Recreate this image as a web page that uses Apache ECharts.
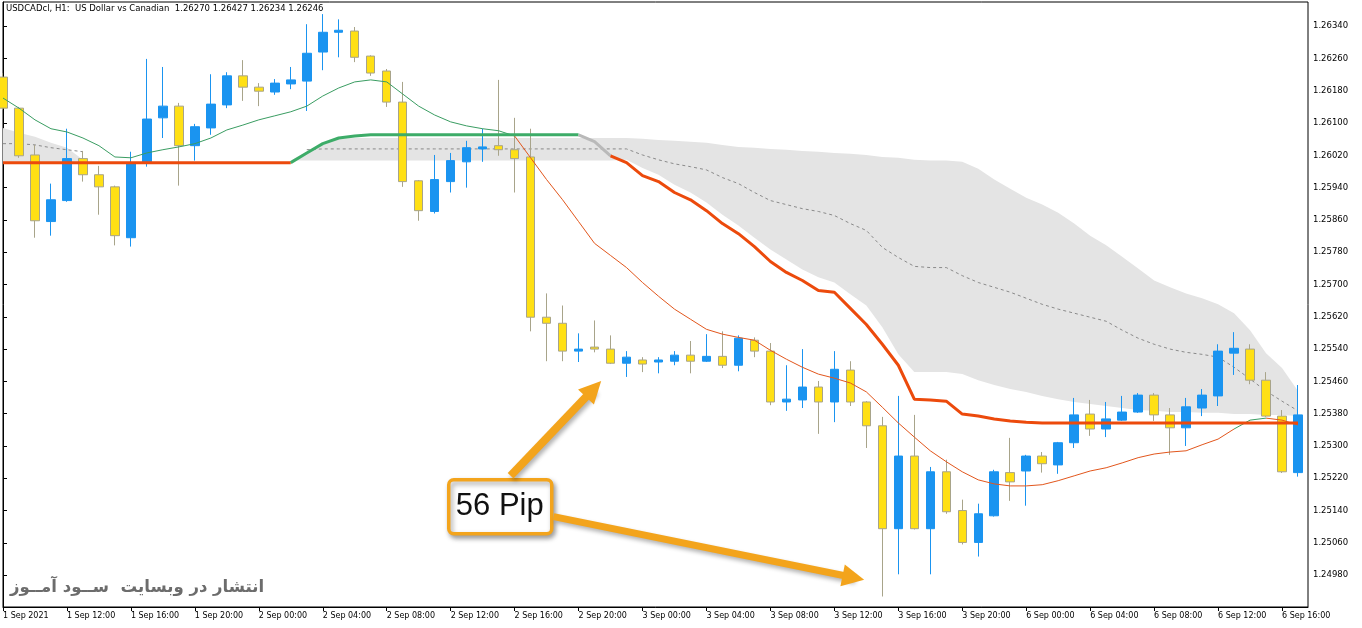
<!DOCTYPE html>
<html>
<head>
<meta charset="utf-8">
<script src="https://cdn.jsdelivr.net/npm/echarts@6.0.0/dist/echarts.min.js"></script>
<style>
  html, body { margin: 0; padding: 0; background: #fff; }
  #chart { width: 1362px; height: 628px; }
</style>
</head>
<body>
<div id="chart"></div>
<script>
// hourly bars, index 0 = 1 Sep 2021 08:00
const tickIndex = [0, 4, 8, 12, 16, 20, 24, 28, 32, 36, 40, 44, 48, 52, 56, 60, 64, 68, 72, 76, 80]
const tickLabels = [
  '1 Sep 2021', '1 Sep 12:00', '1 Sep 16:00', '1 Sep 20:00', '2 Sep 00:00', '2 Sep 04:00',
  '2 Sep 08:00', '2 Sep 12:00', '2 Sep 16:00', '2 Sep 20:00', '3 Sep 00:00', '3 Sep 04:00',
  '3 Sep 08:00', '3 Sep 12:00', '3 Sep 16:00', '3 Sep 20:00', '6 Sep 00:00', '6 Sep 04:00',
  '6 Sep 08:00', '6 Sep 12:00', '6 Sep 16:00'
]
const priceTicks = [
  1.24980, 1.25060, 1.25140, 1.25220, 1.25300, 1.25380, 1.25460, 1.25540, 1.25620,
  1.25700, 1.25780, 1.25860, 1.25940, 1.26020, 1.26100, 1.26180, 1.26260, 1.26340
]

const opens = [
  1.26214, 1.26137, 1.26021, 1.25856, 1.25908, 1.26012, 1.25972, 1.25942, 1.25816, 1.26004,
  1.26113, 1.26142, 1.26044, 1.26088, 1.26145, 1.26217, 1.26189, 1.26177, 1.26197, 1.26204,
  1.26276, 1.26325, 1.26328, 1.26266, 1.26229, 1.26152, 1.25957, 1.25881, 1.25955, 1.26004,
  1.26036, 1.26044, 1.26034, 1.26016, 1.25619, 1.25604, 1.25535, 1.25545, 1.25540, 1.25505,
  1.25513, 1.25508, 1.25510, 1.25525, 1.25510, 1.25522, 1.25500, 1.25562, 1.25535, 1.25409,
  1.25414, 1.25446, 1.25409, 1.25488, 1.25409, 1.25350, 1.25095, 1.25275, 1.25095, 1.25236,
  1.25140, 1.25061, 1.25127, 1.25234, 1.25238, 1.25275, 1.25253, 1.25308, 1.25379, 1.25342,
  1.25364, 1.25384, 1.25426, 1.25377, 1.25345, 1.25394, 1.25424, 1.25530, 1.25540, 1.25463,
  1.25374, 1.25234
]
const highs = [
  1.26224, 1.26140, 1.26046, 1.25950, 1.26086, 1.26031, 1.25994, 1.25945, 1.26029, 1.26259,
  1.26239, 1.26150, 1.26098, 1.26221, 1.26226, 1.26256, 1.26199, 1.26209, 1.26239, 1.26345,
  1.26370, 1.26357, 1.26338, 1.26268, 1.26234, 1.26202, 1.25959, 1.26021, 1.26026, 1.26056,
  1.26086, 1.26207, 1.26113, 1.26086, 1.25678, 1.25648, 1.25579, 1.25611, 1.25574, 1.25535,
  1.25520, 1.25520, 1.25535, 1.25560, 1.25577, 1.25584, 1.25574, 1.25569, 1.25555, 1.25500,
  1.25540, 1.25461, 1.25535, 1.25510, 1.25411, 1.25372, 1.25424, 1.25377, 1.25248, 1.25266,
  1.25167, 1.25157, 1.25241, 1.25320, 1.25278, 1.25285, 1.25310, 1.25419, 1.25414, 1.25409,
  1.25424, 1.25431, 1.25431, 1.25394, 1.25419, 1.25441, 1.25552, 1.25582, 1.25552, 1.25483,
  1.25389, 1.25451
]
const lows = [
  1.26133, 1.26014, 1.25816, 1.25821, 1.25905, 1.25955, 1.25873, 1.25797, 1.25794, 1.25992,
  1.26063, 1.25945, 1.26007, 1.26071, 1.26137, 1.26155, 1.26142, 1.26170, 1.26184, 1.26130,
  1.26231, 1.26263, 1.26251, 1.26217, 1.26140, 1.25942, 1.25858, 1.25876, 1.25928, 1.25940,
  1.26004, 1.26019, 1.25928, 1.25584, 1.25510, 1.25510, 1.25508, 1.25532, 1.25503, 1.25471,
  1.25483, 1.25480, 1.25500, 1.25480, 1.25508, 1.25493, 1.25485, 1.25520, 1.25401, 1.25387,
  1.25394, 1.25330, 1.25359, 1.25399, 1.25295, 1.24927, 1.24982, 1.25093, 1.24982, 1.25132,
  1.25056, 1.25026, 1.25125, 1.25164, 1.25152, 1.25234, 1.25231, 1.25295, 1.25325, 1.25322,
  1.25362, 1.25382, 1.25362, 1.25278, 1.25300, 1.25374, 1.25399, 1.25476, 1.25453, 1.25372,
  1.25233, 1.25224
]
const closes = [
  1.26137, 1.26019, 1.25858, 1.25910, 1.26012, 1.25972, 1.25942, 1.25821, 1.26002, 1.26110,
  1.26142, 1.26044, 1.26091, 1.26147, 1.26217, 1.26189, 1.26179, 1.26199, 1.26207, 1.26273,
  1.26325, 1.26330, 1.26263, 1.26224, 1.26152, 1.25955, 1.25883, 1.25960, 1.26007, 1.26039,
  1.26041, 1.26034, 1.26012, 1.25619, 1.25604, 1.25535, 1.25540, 1.25540, 1.25505, 1.25520,
  1.25503, 1.25513, 1.25525, 1.25510, 1.25522, 1.25500, 1.25567, 1.25535, 1.25409, 1.25416,
  1.25446, 1.25409, 1.25490, 1.25409, 1.25350, 1.25095, 1.25275, 1.25095, 1.25236, 1.25137,
  1.25061, 1.25132, 1.25236, 1.25211, 1.25275, 1.25256, 1.25308, 1.25377, 1.25342, 1.25367,
  1.25384, 1.25426, 1.25377, 1.25345, 1.25397, 1.25426, 1.25535, 1.25542, 1.25463, 1.25374,
  1.25236, 1.25377
]

// thin moving average
const maLine = [
  1.26162, 1.26137, 1.26108, 1.26086, 1.26078, 1.26063, 1.26044, 1.26016, 1.26014, 1.26026,
  1.26034, 1.26041, 1.26049, 1.26063, 1.26083, 1.26095, 1.26108, 1.26118, 1.26128, 1.26142,
  1.26167, 1.26187, 1.26202, 1.26207, 1.26202, 1.26172, 1.26142, 1.26120, 1.26103, 1.26093,
  1.26086, 1.26081, 1.26068, 1.26014, 1.25960, 1.25910, 1.25856, 1.25802, 1.25772, 1.25742,
  1.25705, 1.25671, 1.25639, 1.25614, 1.25589, 1.25577, 1.25569, 1.25562, 1.25537, 1.25515,
  1.25495, 1.25478, 1.25468, 1.25456, 1.25434, 1.25396, 1.25357, 1.25322, 1.25288, 1.25261,
  1.25236, 1.25216, 1.25206, 1.25201, 1.25201, 1.25204, 1.25214, 1.25226, 1.25238, 1.25246,
  1.25258, 1.25271, 1.25280, 1.25285, 1.25288, 1.25303, 1.25317, 1.25342, 1.25364, 1.25369,
  1.25364, 1.25352
]
// thick base line
const baseLine = [
  1.26002, 1.26002, 1.26002, 1.26002, 1.26002, 1.26002, 1.26002, 1.26002, 1.26002, 1.26002,
  1.26002, 1.26002, 1.26002, 1.26002, 1.26002, 1.26002, 1.26002, 1.26002, 1.26002, 1.26026,
  1.26049, 1.26063, 1.26068, 1.26071, 1.26071, 1.26071, 1.26071, 1.26071, 1.26071, 1.26071,
  1.26071, 1.26071, 1.26071, 1.26071, 1.26071, 1.26071, 1.26071, 1.26054, 1.26019, 1.26002,
  1.25970, 1.25955, 1.25928, 1.25910, 1.25883, 1.25851, 1.25826, 1.25794, 1.25757, 1.25730,
  1.25710, 1.25685, 1.25681, 1.25641, 1.25601, 1.25552, 1.25500, 1.25416, 1.25414, 1.25411,
  1.25379, 1.25374, 1.25367, 1.25362, 1.25359, 1.25357, 1.25357, 1.25357, 1.25357, 1.25357,
  1.25357, 1.25357, 1.25357, 1.25357, 1.25357, 1.25357, 1.25357, 1.25357, 1.25357, 1.25357,
  1.25357, 1.25357
]
// cloud edges and its dashed middle line (null = no cloud)
const cloudTop = [
  1.26088, 1.26076, 1.26066, 1.26051, 1.26039, 1.26009, null, null, null, null,
  null, null, null, null, null, null, null, null, 1.26007, 1.26029,
  1.26049, 1.26061, 1.26063, 1.26063, 1.26063, 1.26063, 1.26063, 1.26063, 1.26063, 1.26063,
  1.26063, 1.26063, 1.26063, 1.26063, 1.26063, 1.26063, 1.26063, 1.26063, 1.26063, 1.26063,
  1.26061, 1.26058, 1.26056, 1.26054, 1.26051, 1.26046, 1.26041, 1.26039, 1.26036, 1.26034,
  1.26031, 1.26029, 1.26026, 1.26024, 1.26021, 1.26016, 1.26014, 1.26009, 1.26007, 1.26007,
  1.26004, 1.25987, 1.25960, 1.25937, 1.25915, 1.25898, 1.25878, 1.25851, 1.25821, 1.25797,
  1.25769, 1.25740, 1.25710, 1.25693, 1.25678, 1.25666, 1.25651, 1.25629, 1.25587, 1.25530,
  1.25493, 1.25436
]
const cloudBottom = [
  1.26002, 1.26002, 1.26002, 1.26002, 1.26002, 1.26002, null, null, null, null,
  null, null, null, null, null, null, null, null, 1.26007, 1.26007,
  1.26007, 1.26007, 1.26007, 1.26007, 1.26007, 1.26007, 1.26007, 1.26007, 1.26007, 1.26007,
  1.26007, 1.26007, 1.26007, 1.26007, 1.26007, 1.26007, 1.26007, 1.26007, 1.26007, 1.26009,
  1.25989, 1.25972, 1.25947, 1.25928, 1.25903, 1.25873, 1.25846, 1.25816, 1.25787, 1.25762,
  1.25737, 1.25718, 1.25705, 1.25676, 1.25648, 1.25594, 1.25527, 1.25483, 1.25483, 1.25483,
  1.25478, 1.25463, 1.25451, 1.25441, 1.25434, 1.25424, 1.25416, 1.25409, 1.25404, 1.25399,
  1.25394, 1.25389, 1.25387, 1.25384, 1.25384, 1.25382, 1.25382, 1.25379, 1.25379, 1.25377,
  1.25377, 1.25374
]
const cloudMid = [
  1.26049, 1.26049, 1.26046, 1.26039, 1.26034, 1.26029, null, null, null, null,
  null, null, null, null, null, null, null, null, null, 1.26034,
  1.26036, 1.26036, 1.26036, 1.26036, 1.26036, 1.26036, 1.26036, 1.26036, 1.26036, 1.26036,
  1.26036, 1.26036, 1.26036, 1.26036, 1.26036, 1.26036, 1.26036, 1.26036, 1.26036, 1.26036,
  1.26021, 1.26009, 1.25999, 1.25992, 1.25984, 1.25965, 1.25950, 1.25928, 1.25908, 1.25898,
  1.25888, 1.25881, 1.25871, 1.25851, 1.25834, 1.25792, 1.25767, 1.25745, 1.25742, 1.25742,
  1.25722, 1.25705, 1.25693, 1.25681, 1.25666, 1.25651, 1.25639, 1.25629, 1.25619, 1.25609,
  1.25587, 1.25567, 1.25552, 1.25540, 1.25532, 1.25527, 1.25520, 1.25495, 1.25466, 1.25436,
  1.25411, 1.25387
]

// the two "56 Pip" arrows, [bar index, price] from -> to
const arrowUp = [[31.75, 1.25226], [36.94, 1.25441]]
const arrowDown = [[34.44, 1.25125], [53.19, 1.24974]]

const UP = '#1a94f0'
const DOWN = '#ffe014'
const ORANGE = '#f3a41c'
const AXIS_FONT = 'DejaVu Sans'

function seg(values, from, to) {
  const out = []
  for (let k = from; k <= to; k++) out.push([k, values[k]])
  return out
}

// contiguous non-null runs of an array, as [from, to]
function runs(values) {
  const out = []
  let start = -1
  values.forEach((v, k) => {
    if (v != null && start < 0) start = k
    if ((v == null || k === values.length - 1) && start >= 0) {
      out.push([start, v == null ? k - 1 : k])
      start = -1
    }
  })
  return out
}

function line(data, color, width, z, dash) {
  return {
    type: 'line',
    data,
    z,
    symbol: 'none',
    silent: true,
    lineStyle: { color, width, type: dash || 'solid' },
    animation: false
  }
}

const cloudSpans = runs(cloudTop)
const candles = opens.map((o, k) => [k, o, closes[k], lows[k], highs[k]])

const chart = echarts.init(document.getElementById('chart'))

chart.setOption({
  animation: false,
  backgroundColor: '#fff',
  grid: {
    left: 2, right: 54, top: 2, bottom: 21,
    show: true, borderColor: '#000', borderWidth: 1, backgroundColor: 'transparent'
  },
  xAxis: {
    type: 'value',
    min: 0,
    max: 81.625,
    splitLine: { show: false },
    axisLine: { lineStyle: { color: '#000', width: 1 } },
    axisTick: { customValues: tickIndex, length: 4, lineStyle: { color: '#000' } },
    axisLabel: {
      customValues: tickIndex,
      formatter: v => tickLabels[tickIndex.indexOf(Math.round(v))] || '',
      align: 'left',
      margin: 5,
      color: '#000',
      fontFamily: AXIS_FONT,
      fontSize: 8
    }
  },
  yAxis: {
    type: 'value',
    position: 'right',
    min: 1.24901,
    max: 1.26400,
    scale: true,
    splitLine: { show: false },
    axisLine: { show: true, lineStyle: { color: '#000', width: 1 } },
    axisTick: { show: true, customValues: priceTicks, length: 4, lineStyle: { color: '#000' } },
    axisLabel: {
      customValues: priceTicks,
      formatter: v => v.toFixed(5),
      margin: 5,
      color: '#000',
      fontFamily: AXIS_FONT,
      fontSize: 8.5
    }
  },
  series: [
    {
      // the cloud: one polygon per run, top edge forward then bottom edge back
      type: 'custom',
      z: 1,
      silent: true,
      animation: false,
      data: cloudSpans.map(([from]) => [from, cloudBottom[from]]),
      encode: { x: 0, y: 1 },
      renderItem: (params, api) => {
        const [from, to] = cloudSpans[params.dataIndex]
        const points = []
        for (let k = from; k <= to; k++) points.push(api.coord([k, cloudTop[k]]))
        for (let k = to; k >= from; k--) points.push(api.coord([k, cloudBottom[k]]))
        return { type: 'polygon', shape: { points }, style: { fill: '#e4e4e4' } }
      }
    },
    line(seg(cloudMid, 0, 5), '#8a8a8a', 1, 2, [3, 3]),
    line(seg(cloudMid, 19, 81), '#8a8a8a', 1, 2, [3, 3]),
    {
      type: 'candlestick',
      data: candles,
      z: 3,
      barWidth: 9,
      clip: true,
      silent: true,
      itemStyle: {
        color: UP, color0: DOWN,
        borderColor: UP, borderColor0: '#a8a48a',
        borderWidth: 1
      },
      animation: false
    },
    line(seg(maLine, 0, 32), '#3a9d62', 1, 4),
    line(seg(maLine, 32, 77), '#e2561c', 1, 4),
    line(seg(maLine, 77, 79), '#3a9d62', 1, 4),
    line(seg(maLine, 79, 81), '#e2561c', 1, 4),
    line(seg(baseLine, 0, 18), '#ec4a0c', 3, 5),
    line(seg(baseLine, 18, 36), '#3dac68', 3, 5),
    line(seg(baseLine, 36, 38), '#b9b9b9', 3, 5),
    line(seg(baseLine, 38, 81), '#ec4a0c', 3, 5),
    {
      type: 'line',
      data: [],
      z: 8,
      silent: true,
      markLine: {
        silent: true,
        animation: false,
        symbol: ['none', 'triangle'],
        symbolSize: 22,
        label: { show: false },
        lineStyle: {
          color: ORANGE, type: 'solid', width: 8,
          shadowColor: 'rgba(0,0,0,0.3)', shadowBlur: 4, shadowOffsetX: 2, shadowOffsetY: 3
        },
        emphasis: { disabled: true },
        data: [
          [{ coord: arrowUp[0] }, { coord: arrowUp[1] }],
          [{ coord: arrowDown[0] }, { coord: arrowDown[1], lineStyle: { width: 7 } }]
        ]
      }
    }
  ],
  graphic: [
    {
      type: 'text', left: 6, top: 4, z: 100, silent: true,
      style: {
        text: 'USDCADcl, H1:  US Dollar vs Canadian  1.26270 1.26427 1.26234 1.26246',
        fill: '#000', font: '8.5px "DejaVu Sans"'
      }
    },
    {
      type: 'text', left: 10, top: 579, z: 100, silent: true,
      style: {
        text: 'انتشار در وبسایت  ســود آمــوز',
        fill: '#6c6c6c', font: 'bold 16.5px "DejaVu Sans"'
      }
    },
    {
      type: 'group', left: 447, top: 478, z: 120,
      children: [
        {
          type: 'rect',
          shape: { x: 0, y: 0, width: 103, height: 54, r: 5 },
          style: {
            fill: '#fff', stroke: ORANGE, lineWidth: 3.5,
            shadowColor: 'rgba(0,0,0,0.35)', shadowBlur: 5, shadowOffsetX: 2, shadowOffsetY: 3
          }
        },
        {
          type: 'text',
          style: {
            text: '56 Pip', x: 51, y: 27, align: 'center', verticalAlign: 'middle',
            fill: '#111', font: '31px "Liberation Sans"'
          }
        }
      ]
    }
  ]
})
</script>
</body>
</html>
